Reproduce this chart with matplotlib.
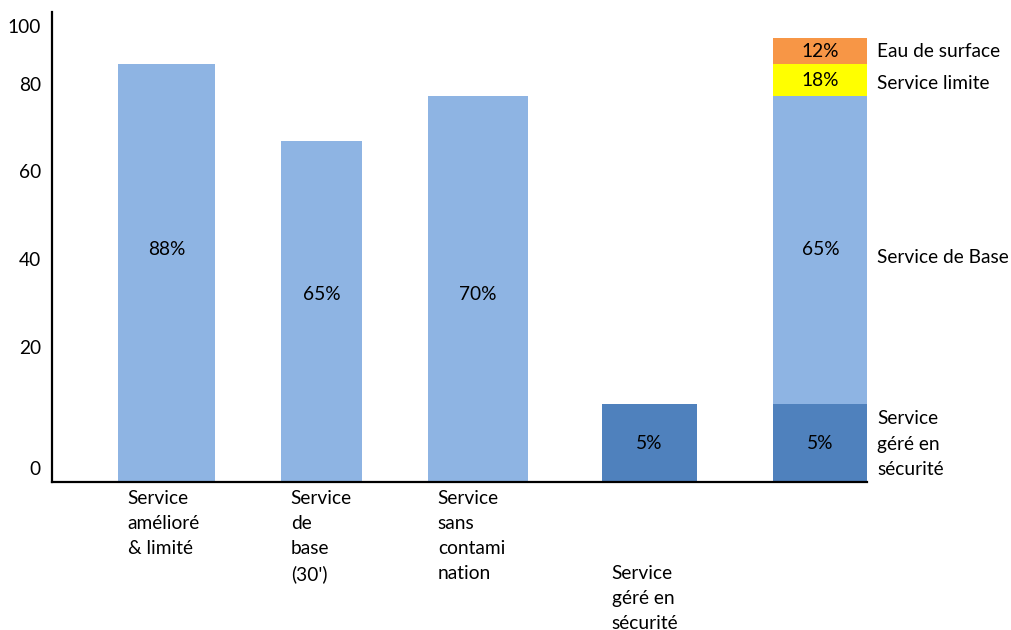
import matplotlib
matplotlib.use("Agg")
import matplotlib.pyplot as plt

plt.rcParams["font.family"] = ["Lato", "DejaVu Sans"]

# single bars (drawn heights, in chart units 0-100)
categories = ["Service\namélioré\n& limité", "Service\nde\nbase\n(30')",
              "Service\nsans\ncontami\nnation", "\n\n\nService\ngéré en\nsécurité"]
bar_heights = [88.9, 72.6, 82.1, 16.6]
bar_labels = ["88%", "65%", "70%", "5%"]

# stacked bar on the right
stack_names = ["Service\ngéré en\nsécurité", "Service de Base", "Service limite", "Eau de surface"]
stack_heights = [16.6, 65.5, 6.8, 5.5]
stack_labels = ["5%", "65%", "18%", "12%"]

ytick_pos = [3.0, 28.7, 47.4, 66.2, 84.7, 97.0]
ytick_labels = ["0", "20", "40", "60", "80", "100"]

# layout
x_pos = [0, 0.948, 1.905, 2.954, 4.0]
widths = [0.593, 0.495, 0.612, 0.581, 0.581]
bar_colors = ["#8EB4E3", "#8EB4E3", "#8EB4E3", "#4F81BD"]
stack_colors = ["#4F81BD", "#8EB4E3", "#FFFF00", "#F79646"]
bar_label_y = [49.4, 39.8, 39.8, 8.1]
stack_label_y = [8.1, 49.4, 85.5, 91.7]
stack_name_y = [8.0, 47.7, 84.7, 91.7]

fig = plt.figure(figsize=(10.12, 6.3), dpi=100)
ax = fig.add_axes([52 / 1012, 1 - 482 / 630, (867 - 52) / 1012, 470 / 630])

fs = 13.8
for i, h in enumerate(bar_heights):
    ax.bar(x_pos[i], h, width=widths[i], color=bar_colors[i])
    ax.text(x_pos[i], bar_label_y[i], bar_labels[i], ha="center", va="center", fontsize=fs)
    ax.text(x_pos[i] - widths[i] / 2 + 0.06, -0.016, categories[i],
            transform=ax.get_xaxis_transform(), ha="left", va="top",
            fontsize=fs, linespacing=1.58)

bottom = 0
sx = x_pos[4]
for h, c, lab, ly, name, ny in zip(stack_heights, stack_colors, stack_labels,
                                   stack_label_y, stack_names, stack_name_y):
    ax.bar(sx, h, bottom=bottom, width=widths[4], color=c)
    ax.text(sx, ly, lab, ha="center", va="center", fontsize=fs)
    ax.text(sx + widths[4] / 2 + 0.055, ny, name, ha="left", va="center",
            fontsize=fs, linespacing=1.6)
    bottom += h

ax.set_xlim(-0.700, 4.284)
ax.set_ylim(0, 100)
ax.set_xticks([])
ax.set_yticks(ytick_pos)
ax.set_yticklabels(ytick_labels, fontsize=fs)
ax.tick_params(axis="y", length=0, pad=8)
for s in ["top", "right"]:
    ax.spines[s].set_visible(False)
for s in ["left", "bottom"]:
    ax.spines[s].set_linewidth(1.6)
    ax.spines[s].set_color("black")

fig.savefig("out.png", dpi=100)
